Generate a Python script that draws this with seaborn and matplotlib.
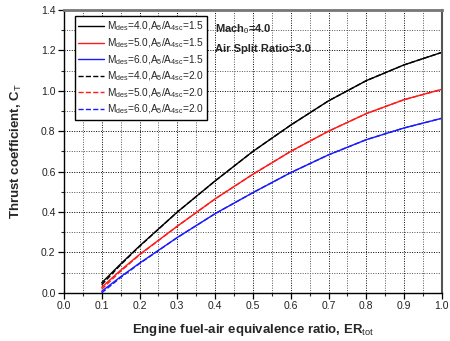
import matplotlib
matplotlib.use("Agg")
import matplotlib.pyplot as plt
import numpy as np
import pandas as pd
import seaborn as sns
from matplotlib.ticker import MultipleLocator, FormatStrFormatter

# Engine fuel-air equivalence ratio samples
er = [0.10, 0.15, 0.20, 0.30, 0.40, 0.50, 0.60, 0.70, 0.80, 0.90, 1.00]

# Thrust coefficient, A5/A4sc = 1.5
ct_m4_15 = [0.050, 0.143, 0.232, 0.400, 0.554, 0.700, 0.830, 0.950, 1.050, 1.128, 1.190]
ct_m5_15 = [0.028, 0.112, 0.190, 0.330, 0.465, 0.587, 0.700, 0.800, 0.887, 0.956, 1.007]
ct_m6_15 = [0.008, 0.080, 0.147, 0.274, 0.392, 0.496, 0.595, 0.683, 0.758, 0.816, 0.864]

# Thrust coefficient, A5/A4sc = 2.0
ct_m4_20 = [0.040, 0.139, 0.230, 0.400, 0.554, 0.700, 0.830, 0.950, 1.050, 1.128, 1.190]
ct_m5_20 = [0.018, 0.107, 0.188, 0.330, 0.465, 0.587, 0.700, 0.800, 0.887, 0.956, 1.007]
ct_m6_20 = [0.000, 0.076, 0.145, 0.274, 0.392, 0.496, 0.595, 0.683, 0.758, 0.816, 0.864]

series_labels = [
    r"M$_{\rm des}$=4.0,A$_{\rm 5}$/A$_{\rm 4sc}$=1.5",
    r"M$_{\rm des}$=5.0,A$_{\rm 5}$/A$_{\rm 4sc}$=1.5",
    r"M$_{\rm des}$=6.0,A$_{\rm 5}$/A$_{\rm 4sc}$=1.5",
    r"M$_{\rm des}$=4.0,A$_{\rm 5}$/A$_{\rm 4sc}$=2.0",
    r"M$_{\rm des}$=5.0,A$_{\rm 5}$/A$_{\rm 4sc}$=2.0",
    r"M$_{\rm des}$=6.0,A$_{\rm 5}$/A$_{\rm 4sc}$=2.0",
]
series_values = [ct_m4_15, ct_m5_15, ct_m6_15, ct_m4_20, ct_m5_20, ct_m6_20]
series_colors = ["#000000", "#ff1a1a", "#1a1aff", "#000000", "#ff1a1a", "#1a1aff"]
series_styles = ["-", "-", "-", "--", "--", "--"]

sns.set_theme(style="white")
plt.rcParams["font.family"] = ["Liberation Sans", "DejaVu Sans"]
plt.rcParams["mathtext.fontset"] = "custom"
plt.rcParams["mathtext.rm"] = "Liberation Sans"
plt.rcParams["mathtext.it"] = "Liberation Sans:italic"
plt.rcParams["mathtext.bf"] = "Liberation Sans:bold"

fig = plt.figure(figsize=(4.5, 3.41), dpi=100)
ax = fig.add_axes([0.142, 0.141, 0.840, 0.830])

for lab, vals, col, ls in zip(series_labels, series_values, series_colors, series_styles):
    df = pd.DataFrame({"ER": er, "CT": vals})
    sns.lineplot(data=df, x="ER", y="CT", ax=ax, color=col, linestyle=ls,
                 linewidth=1.0, label=lab, sort=True)

ax.set_xlim(0.0, 1.0)
ax.set_ylim(0.0, 1.4)
ax.xaxis.set_major_locator(MultipleLocator(0.1))
ax.xaxis.set_minor_locator(MultipleLocator(0.05))
ax.yaxis.set_major_locator(MultipleLocator(0.2))
ax.yaxis.set_minor_locator(MultipleLocator(0.1))
ax.xaxis.set_major_formatter(FormatStrFormatter("%.1f"))
ax.yaxis.set_major_formatter(FormatStrFormatter("%.1f"))

ax.grid(which="major", color="black", linestyle=(0, (1, 1.5)), linewidth=0.7)
ax.grid(which="minor", color="#555555", linestyle=(0, (1, 1.5)), linewidth=0.7)
ax.set_axisbelow(True)

ax.tick_params(which="major", direction="out", length=4, width=0.9,
               labelsize=7.5, colors="black", pad=2, bottom=True, left=True)
ax.tick_params(which="minor", direction="out", length=2, width=0.8,
               bottom=True, left=True)
for lbl in ax.get_xticklabels() + ax.get_yticklabels():
    lbl.set_color("#222222")

for side in ["left", "bottom"]:
    ax.spines[side].set_color("black")
    ax.spines[side].set_linewidth(1.0)
ax.spines["top"].set_color("#777777")
ax.spines["top"].set_linewidth(2.0)
ax.spines["right"].set_color("#555555")
ax.spines["right"].set_linewidth(1.5)

ax.set_xlabel(r"Engine fuel-air equivalence ratio, ER$_{\rm tot}$",
              fontsize=9.5, fontweight="bold", labelpad=8)
ax.set_ylabel(r"Thrust coefficient, C$_{\rm T}$",
              fontsize=9.5, fontweight="bold", labelpad=12)

ax.text(0.40, 1.307, r"Mach$_{\rm 0}$=4.0", fontsize=8, fontweight="bold",
        ha="left", va="center")
ax.text(0.40, 1.208, "Air Split Ratio=3.0", fontsize=8, fontweight="bold",
        ha="left", va="center")

leg = ax.legend(loc="upper left", bbox_to_anchor=(0.029, 0.978), fontsize=7.3,
                frameon=True, fancybox=False, framealpha=1, edgecolor="black",
                handlelength=2.5, handletextpad=0.3, borderpad=0.35,
                labelspacing=0.3, borderaxespad=0)
leg.get_frame().set_linewidth(1.0)

fig.savefig("out.png", dpi=100)
